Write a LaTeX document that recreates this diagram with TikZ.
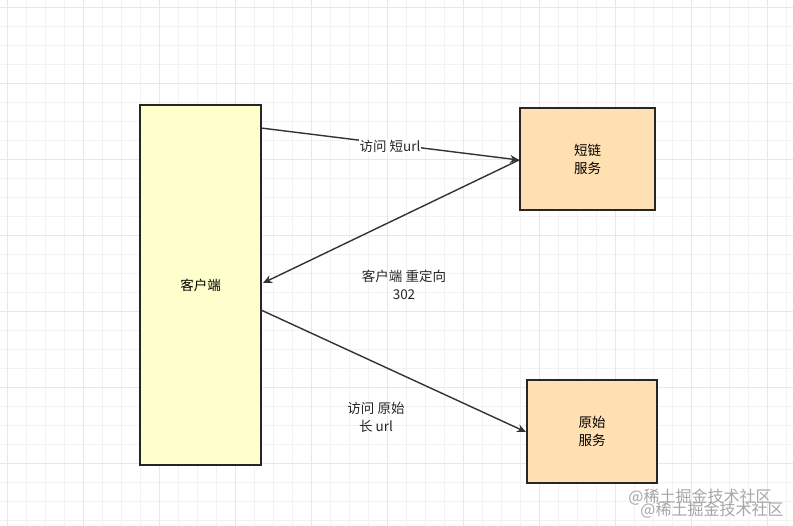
\documentclass[tikz,border=0pt]{standalone}
\usepackage{fontspec}
\setmainfont{Noto Sans CJK SC}
\usetikzlibrary{arrows.meta}
\definecolor{yel}{HTML}{FFFFCC}
\definecolor{ora}{HTML}{FFE0B2}
\begin{document}
\begin{tikzpicture}[x=1pt,y=-1pt,
  box/.style={draw=black!85,line width=1.6pt,minimum width=#1,inner sep=0pt,font=\fontsize{13.5}{18}\selectfont,align=center},
  conn/.style={draw=black!80,line width=1.4pt,-{Stealth[length=9pt,width=8pt]}},
  lbl/.style={font=\fontsize{13.5}{18}\selectfont,align=center,text=black!85}]
\useasboundingbox (0,0) rectangle (793,526);
\fill[white] (0,0) rectangle (793,526);
\foreach \x in {7,26,...,793} \draw[black!5,line width=0.6pt] (\x,0) -- (\x,526);
\foreach \y in {7,26,...,526} \draw[black!5,line width=0.6pt] (0,\y) -- (793,\y);
\foreach \x in {7,83,...,793} \draw[black!9,line width=0.8pt] (\x,0) -- (\x,526);
\foreach \y in {7,83,...,526} \draw[black!9,line width=0.8pt] (0,\y) -- (793,\y);
\node[box=121pt,minimum height=360pt,fill=yel] (c) at (200.5,285) {客户端};
\node[box=135pt,minimum height=102pt,fill=ora] (s) at (587.5,159) {短链\\服务};
\node[box=130pt,minimum height=103pt,fill=ora] (o) at (592,431.5) {原始\\服务};
\coordinate (c1) at (261,128);
\coordinate (c2) at (263,283);
\coordinate (c3) at (261,310);
\coordinate (s1) at (519,160);
\coordinate (o1) at (526,432);
\draw[conn] (c1) -- (s1);
\draw[conn] (s1) -- (c2);
\draw[conn] (c3) -- (o1);
\node[lbl,fill=white,inner sep=1pt] (l1) at (390,146) {访问 短url};
\node[lbl] (l2) at (404,285) {客户端 重定向\\302};
\node[lbl] (l3) at (376,417) {访问 原始\\长 url};
\node[text=black!35,font=\fontsize{16}{18}\selectfont] (w1) at (700,497) {@稀土掘金技术社区};
\node[text=black!35,font=\fontsize{16}{18}\selectfont] (w2) at (712,510) {@稀土掘金技术社区};
\end{tikzpicture}
\end{document}
